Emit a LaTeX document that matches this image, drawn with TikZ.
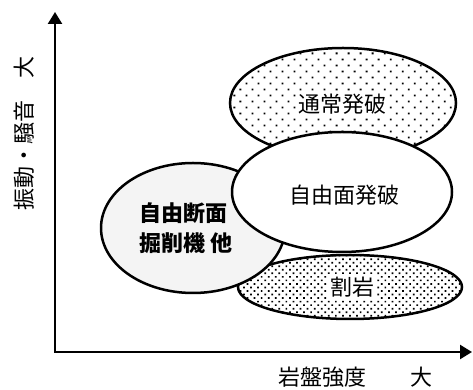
\documentclass[tikz,border=0pt]{standalone}
\usepackage{fontspec}
\setmainfont{Noto Sans CJK JP}
\usetikzlibrary{arrows.meta, patterns.meta, shapes.geometric}

\tikzset{
    axis/.style={line width=2.4pt, line join=miter},
    blob/.style={ellipse, draw, line width=2.5pt, inner sep=0pt},
    sparsedots/.style={pattern={Dots[distance=8.5pt, angle=45, radius=1.3pt]}},
    densedots/.style={pattern={Dots[distance=5pt, angle=45, radius=1.2pt]}},
    lbl/.style={font=\fontsize{22}{30}\selectfont, inner sep=1pt},
}

\begin{document}
\begin{tikzpicture}[x=1pt, y=1pt]
    \useasboundingbox (0,0) rectangle (473,390);

    % axes
    \coordinate (ytip) at (55,378);
    \coordinate (O) at (55,38);
    \coordinate (xtip) at (472,38);
    \draw[axis, {Triangle[length=12pt, width=14pt]}-{Triangle[length=12pt, width=14pt]}] (ytip) -- (O) -- (xtip);

    \node[lbl, rotate=90] (ylabel) at (24,256) {振動・騒音　大};
    \node[lbl] (xlabel) at (355,13) {岩盤強度　　大};

    % regions
    \node[blob, sparsedots, minimum width=226, minimum height=110] (normal) at (343,287) {};
    \node[lbl, fill=white] (normaltext) at (342,286) {通常発破};

    \node[blob, densedots, minimum width=224, minimum height=64] (split) at (350,103) {};
    \node[lbl, fill=white, inner sep=3pt] (splittext) at (352,103) {割岩};

    \node[blob, fill=gray!9, minimum width=184, minimum height=130] (tbm) at (193,162) {};
    \node[lbl, font=\fontsize{22}{30}\selectfont\bfseries, align=left] (tbmtext) at (186,162) {自由断面\\掘削機 他};

    \node[blob, fill=white, minimum width=220, minimum height=120] (free) at (342,198) {};
    \node[lbl] (freetext) at (344,195) {自由面発破};

\end{tikzpicture}
\end{document}
